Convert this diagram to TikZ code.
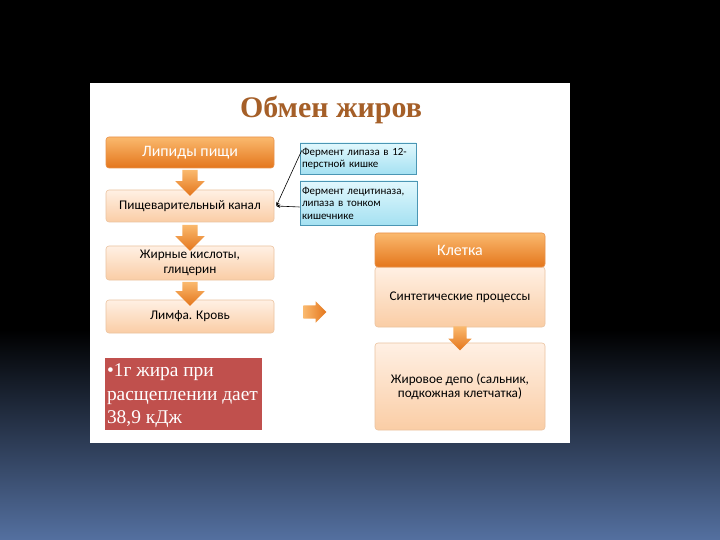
\documentclass[tikz,border=0pt]{standalone}
\usepackage{fontspec}
\setmainfont{Carlito}
\newfontfamily\serifx{Liberation Serif}
\usetikzlibrary{shapes.arrows,calc,arrows.meta}
\definecolor{orA}{RGB}{250,185,110}
\definecolor{orB}{RGB}{228,118,28}
\definecolor{peA}{RGB}{255,240,228}
\definecolor{peB}{RGB}{250,205,165}
\definecolor{peD}{RGB}{235,195,160}
\definecolor{blA}{RGB}{225,248,253}
\definecolor{blB}{RGB}{165,225,242}
\definecolor{blD}{RGB}{75,150,180}
\definecolor{redbox}{RGB}{192,80,77}
\definecolor{titlec}{RGB}{165,95,40}
\definecolor{bgblue}{RGB}{84,112,160}
\tikzset{
  obox/.style={rectangle, rounded corners=3bp, top color=orA, bottom color=orB, draw=orB!80!white, line width=0.6bp, text=white, font=\fontsize{16}{17}\selectfont, align=center, inner sep=0pt},
  pbox/.style={rectangle, rounded corners=3bp, top color=peA, bottom color=peB, draw=peD, line width=0.6bp, text=black, font=\fontsize{13.3}{14.5}\selectfont, align=center, inner sep=0pt},
  bbox/.style={rectangle, top color=blA, bottom color=blB, draw=blD, line width=0.6bp, text=black, font=\fontsize{11}{12.5}\selectfont, align=left, inner sep=2bp, anchor=center},
  barrow/.style={single arrow, top color=orA, bottom color=orB, draw=none, inner sep=7.5bp, single arrow head extend=7bp},
  conn/.style={-{Stealth[length=4bp,width=3.5bp]}, line width=0.6bp, black},
}
\begin{document}
\begin{tikzpicture}[x=1bp,y=-1bp]
\useasboundingbox (0,0) rectangle (720,540);
\fill[black] (0,0) rectangle (720,330);
\shade[top color=black, bottom color=bgblue] (0,330) rectangle (720,540);
\fill[white] (90,83) rectangle (570,443);
% title
\node[font=\serifx\bfseries\fontsize{30}{32}\selectfont, text=titlec] (title) at (331,110) {Обмен жиров};
% left column
\node[obox, minimum width=168bp, minimum height=31bp] (lip) at (190,152.5) {Липиды пищи};
\node[pbox, minimum width=168bp, minimum height=32bp] (can) at (190,206) {Пищеварительный канал};
\node[pbox, minimum width=168bp, minimum height=34bp] (zhk) at (190,263) {Жирные кислоты,\\глицерин};
\node[pbox, minimum width=168bp, minimum height=33bp] (lim) at (190,316.5) {Лимфа. Кровь};
% down arrows left
\node[barrow, shape border rotate=270, minimum height=26bp] (a1) at ($(lip.south)!0.5!(can.north)$) {};
\node[barrow, shape border rotate=270, minimum height=26bp] (a2) at ($(can.south)!0.5!(zhk.north)$) {};
\node[barrow, shape border rotate=270, minimum height=24bp] (a3) at ($(zhk.south)!0.5!(lim.north)$) {};
% right arrow
\node[barrow, shape border rotate=0, minimum height=23bp, inner sep=6.5bp, single arrow head extend=4bp, left color=orA, right color=orB] (ar) at (311.5,312) {};
% blue boxes
\node[bbox, minimum width=116bp, minimum height=31bp, text width=112bp] (f1) at (358,158.5) {Фермент липаза в 12-\\перстной кишке};
\node[bbox, minimum width=117bp, minimum height=44bp, text width=113bp] (f2) at (358.5,203) {Фермент лецитиназа,\\липаза в тонком\\кишечнике};
\coordinate (c1) at ($(f1.west)+(2,-8)$);
\coordinate (c2) at ($(f2.west)+(0,4)$);
\draw[conn] (c1) -- ($(can.east)+(2,0)$);
\draw[conn] (c2) -- ($(can.east)+(2,0)$);
% right column
\node[pbox, minimum width=170bp, minimum height=60bp] (syn) at (460,297) {Синтетические процессы};
\node[obox, minimum width=170bp, minimum height=34bp] (kl) at (460,250) {Клетка};
\node[pbox, minimum width=170bp, minimum height=87bp] (dep) at (460,386.5) {Жировое депо (сальник,\\подкожная клетчатка)};
\node[barrow, shape border rotate=270, minimum height=24bp, inner sep=6.5bp, single arrow head extend=5bp] (a4) at ($(syn.south)!0.5!(dep.north)$) {};
% red box
\node[rectangle, fill=redbox, minimum width=157bp, minimum height=72bp, inner sep=0pt] (rb) at (183.5,394) {};
\node[anchor=north west, text=white, font=\serifx\fontsize{19.5}{23.5}\selectfont, align=left, inner sep=0pt] (rt) at ($(rb.north west)+(2,6)$) {•1г жира при\\расщеплении дает\\38,9 кДж};
\end{tikzpicture}
\end{document}
